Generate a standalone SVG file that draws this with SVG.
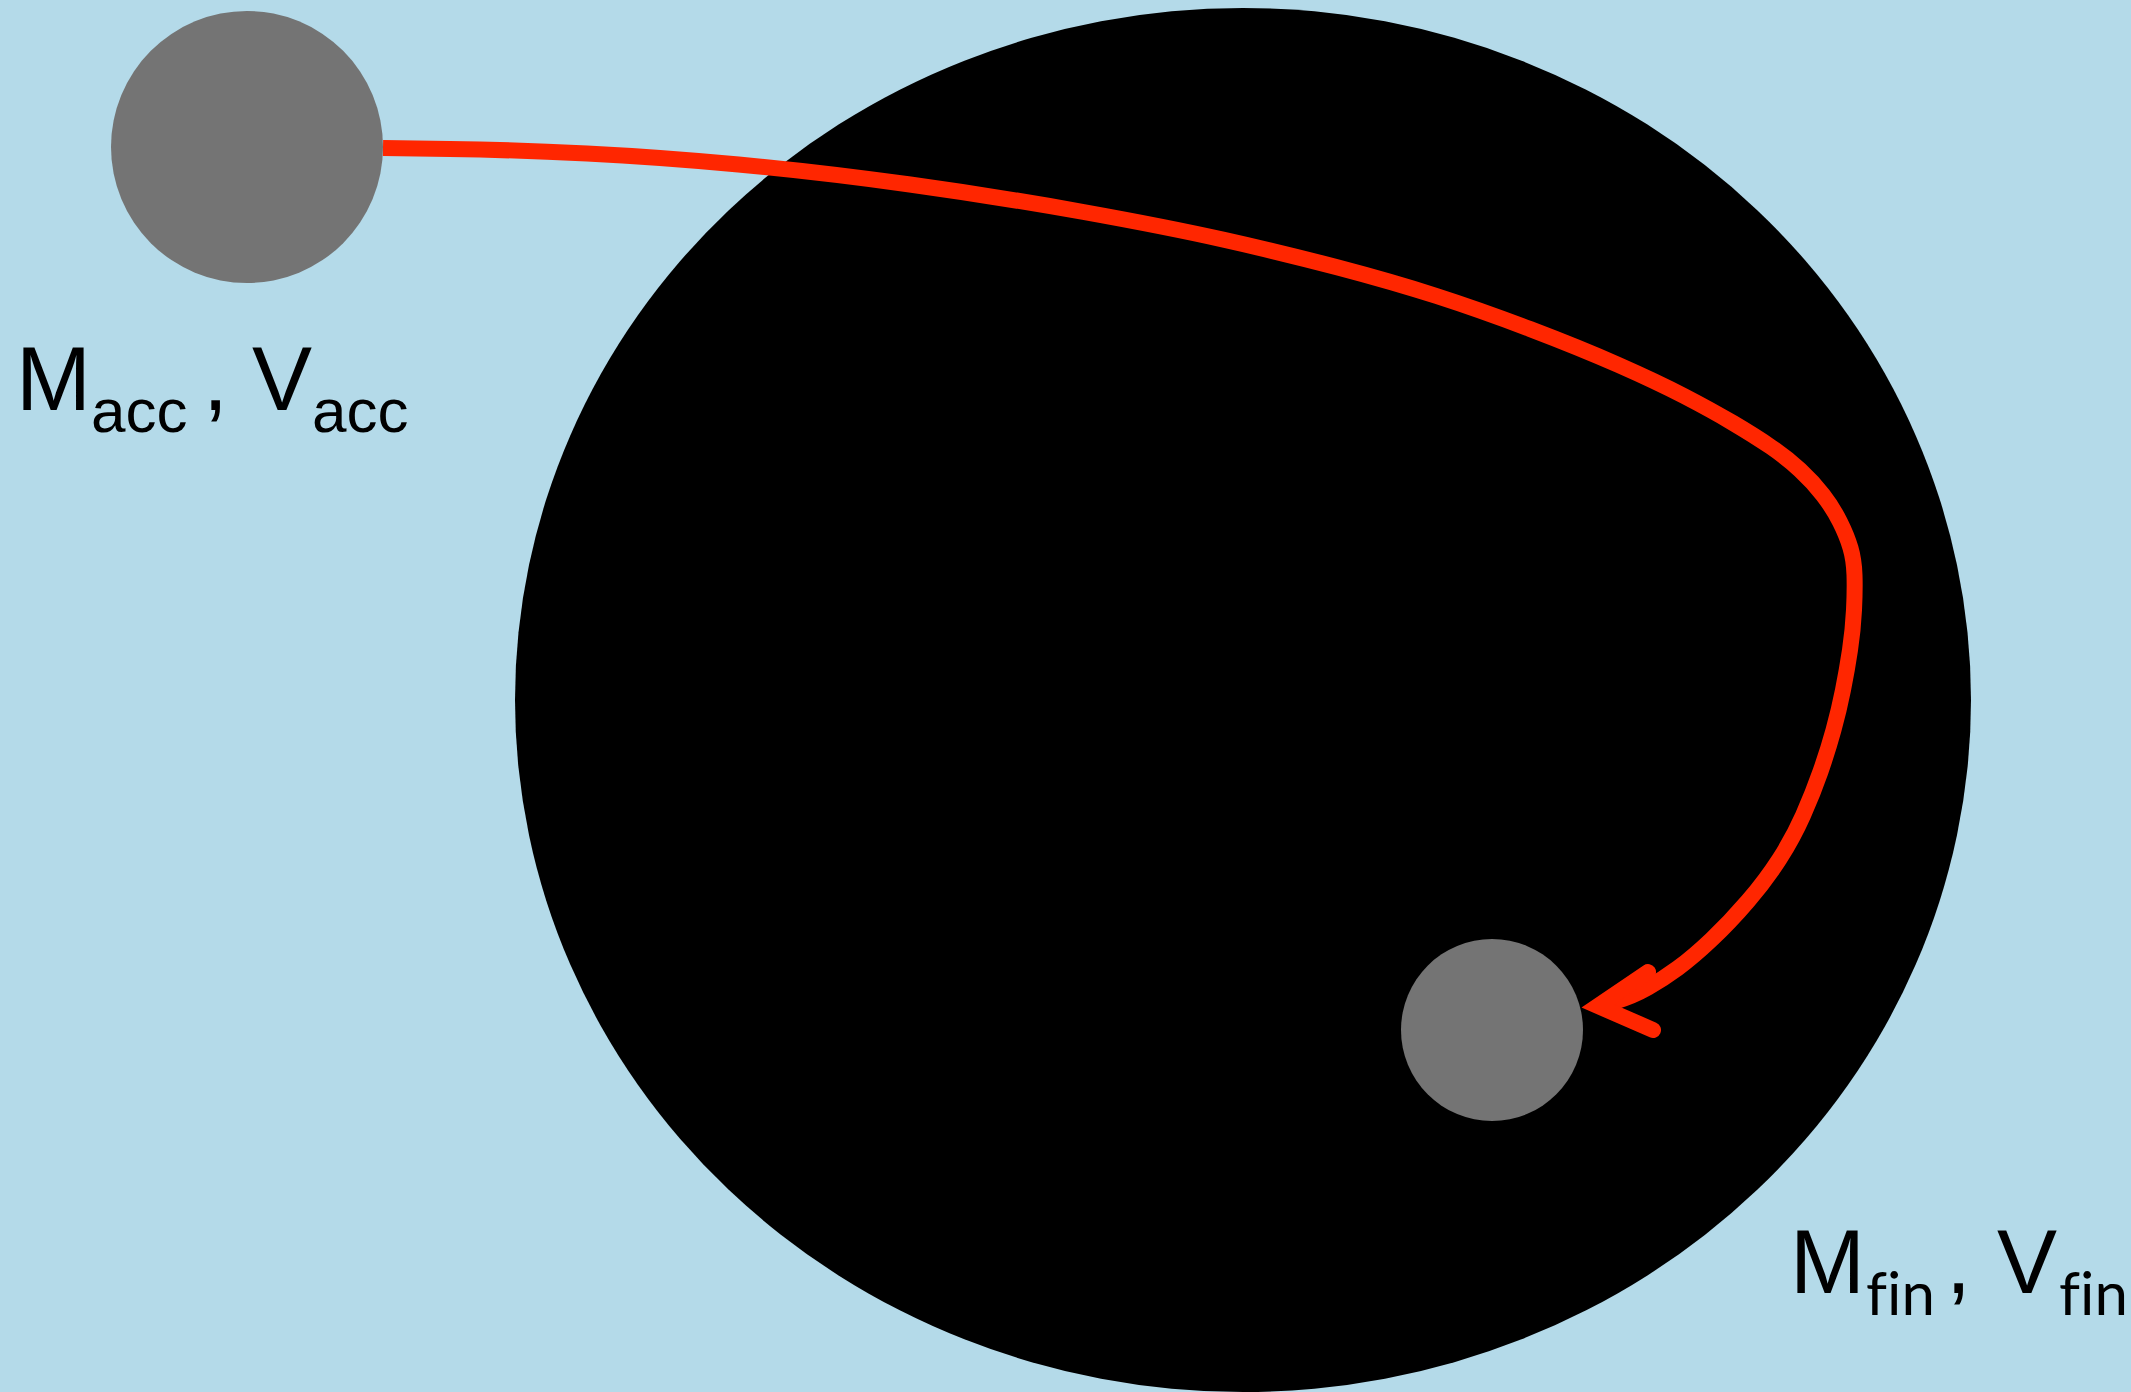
<svg xmlns="http://www.w3.org/2000/svg" width="2131" height="1392" viewBox="0 0 2131 1392">
  <style>
    .ball { fill: #747474; }
    .lbl { font-family: "Liberation Sans", Arial, sans-serif; fill: #000; }
    .sub2 { font-family: Lato, "Open Sans", sans-serif; font-variant-ligatures: none; fill: #000; }
    .conn { fill: none; stroke: #FF2600; stroke-width: 16; }
  </style>
  <rect x="0" y="0" width="2131" height="1392" fill="#B4DAE9"/>
  <g id="black-hole">
    <ellipse cx="1243" cy="700" rx="728" ry="692" fill="#000"/>
  </g>
  <g id="acc-ball">
    <circle class="ball" cx="247" cy="147" r="136"/>
  </g>
  <g id="acc-label">
    <text class="lbl" font-size="90"><tspan x="16" y="410">M</tspan><tspan x="91" y="432" font-size="62">acc</tspan><tspan x="203" y="410">,</tspan><tspan x="252" y="410">V</tspan><tspan x="312" y="432" font-size="62">acc</tspan></text>
  </g>
  <g id="fin-ball">
    <circle class="ball" cx="1492" cy="1030" r="91"/>
  </g>
  <g id="fin-label">
    <text class="lbl" font-size="90"><tspan x="1790" y="1293">M</tspan><tspan class="sub2" x="1866" y="1315" font-size="60">fin</tspan><tspan x="1946" y="1293">,</tspan><tspan x="1997" y="1293">V</tspan><tspan class="sub2" x="2059" y="1315" font-size="60">fin</tspan></text>
  </g>
  <g id="connectors">
    <path class="conn" stroke-linejoin="round" d="M383,148 L450,149 Q517,150 587,153.5 Q657,157 738.5,164.5 Q820,172 910,184.5 Q1000,197 1083.5,212 Q1167,227 1225,240 Q1283,253 1338,267.5 Q1393,282 1436.5,296 Q1480,310 1530,329 Q1580,348 1618.5,365 Q1657,382 1684,396 Q1711,410 1733,423 Q1755,436 1771,447 Q1787,458 1800,470 Q1813,482 1823,495 Q1833,508 1840,522 Q1847,536 1850.5,548 Q1854,560 1854.5,575 Q1855,590 1854,610 Q1853,630 1850,650 Q1847,670 1843,690 Q1839,710 1833.5,730 Q1828,750 1820.5,771.5 Q1813,793 1803,815.5 Q1793,838 1779.5,859 Q1766,880 1748,901 Q1730,922 1711.5,939.5 Q1693,957 1678,968 Q1663,979 1648,987.5 Q1633,996 1616.5,1001 L1600,1006"/>
    <polyline class="conn" stroke-linecap="round" stroke-linejoin="miter" stroke-miterlimit="10" points="1648,972 1598,1006 1653,1030"/>
  </g>
</svg>
